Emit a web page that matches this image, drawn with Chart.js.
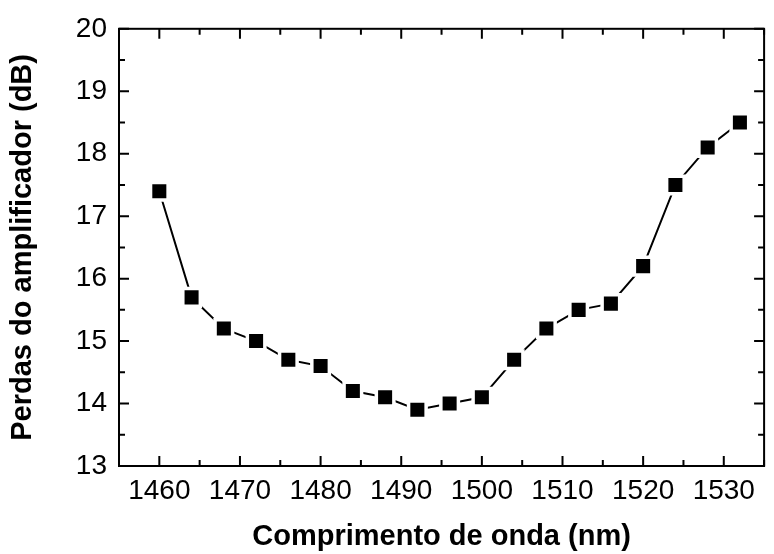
<!DOCTYPE html>
<html>
<head>
<meta charset="utf-8">
<script src="https://cdn.jsdelivr.net/npm/chart.js@4.4.1/dist/chart.umd.min.js"></script>
<style>
  html, body { margin: 0; padding: 0; background: #fff; overflow: hidden; }
  #wrap { width: 780px; height: 554px; }
</style>
</head>
<body>
<div id="wrap"><canvas id="lossCanvas" width="780" height="554"></canvas></div>
<script>
// wavelength (nm) and amplifier loss (dB)
var wavelengths = [1460, 1464, 1468, 1472, 1476, 1480, 1484, 1488, 1492, 1496,
                   1500, 1504, 1508, 1512, 1516, 1520, 1524, 1528, 1532];
var losses = [17.4, 15.7, 15.2, 15.0, 14.7, 14.6, 14.2, 14.1, 13.9, 14.0,
              14.1, 14.7, 15.2, 15.5, 15.6, 16.2, 17.5, 18.1, 18.5];

var xTicks = [1460, 1470, 1480, 1490, 1500, 1510, 1520, 1530];
var yTicks = [13, 14, 15, 16, 17, 18, 19, 20];

var points = wavelengths.map(function (w, i) {
  return { x: w, y: losses[i] };
});

var labelFont = { family: 'Liberation Sans, Arial, sans-serif', size: 28 };
var titleFont = { family: 'Liberation Sans, Arial, sans-serif', size: 29, weight: 'bold' };

// box around the plot with inward ticks on all four sides
var framePlugin = {
  id: 'frame',
  afterDraw: function (chart) {
    var ctx = chart.ctx;
    var a = chart.chartArea;
    var xs = chart.scales.x, ys = chart.scales.y;
    ctx.save();
    ctx.strokeStyle = '#000';
    ctx.lineWidth = 2;
    ctx.lineCap = 'square';
    ctx.strokeRect(a.left, a.top, a.right - a.left, a.bottom - a.top);

    function xTick(v, len) {
      var px = xs.getPixelForValue(v);
      ctx.beginPath();
      ctx.moveTo(px, a.bottom); ctx.lineTo(px, a.bottom - len);
      ctx.moveTo(px, a.top); ctx.lineTo(px, a.top + len);
      ctx.stroke();
    }
    function yTick(v, len) {
      var py = ys.getPixelForValue(v);
      ctx.beginPath();
      ctx.moveTo(a.left, py); ctx.lineTo(a.left + len, py);
      ctx.moveTo(a.right, py); ctx.lineTo(a.right - len, py);
      ctx.stroke();
    }
    ctx.lineCap = 'butt';
    xTicks.forEach(function (v) { xTick(v, 10); xTick(v + 5, 6); });
    yTicks.forEach(function (v) { yTick(v, 10); yTick(v + 0.5, 6); });
    ctx.restore();
  }
};

var ctx = document.getElementById('lossCanvas').getContext('2d');
var lossChart = new Chart(ctx, {
  type: 'line',
  data: {
    datasets: [{
      data: points,
      borderColor: '#000',
      borderWidth: 2,
      tension: 0,
      pointStyle: 'rect',
      pointRadius: 12.4,
      pointBackgroundColor: '#000',
      pointBorderColor: '#fff',
      pointBorderWidth: 3.5
    }]
  },
  options: {
    responsive: false,
    animation: false,
    layout: { padding: { top: 27, left: 0, right: 4, bottom: 0 } },
    plugins: {
      legend: { display: false },
      tooltip: { enabled: false }
    },
    scales: {
      x: {
        type: 'linear',
        min: 1455,
        max: 1535,
        afterBuildTicks: function (s) {
          s.ticks = xTicks.map(function (v) { return { value: v }; });
        },
        afterFit: function (s) { s.height = 88; },
        grid: { display: false, drawTicks: false },
        border: { display: false },
        ticks: {
          autoSkip: false,
          maxRotation: 0,
          padding: 8,
          color: '#000',
          font: labelFont,
          callback: function (v) { return String(v); }
        },
        title: {
          display: true,
          text: 'Comprimento de onda (nm)',
          color: '#000',
          padding: { top: 0, bottom: 0 },
          font: titleFont
        }
      },
      y: {
        min: 13,
        max: 20,
        afterBuildTicks: function (s) {
          s.ticks = yTicks.map(function (v) { return { value: v }; });
        },
        afterFit: function (s) { s.width = 119; },
        grid: { display: false, drawTicks: false },
        border: { display: false },
        ticks: {
          padding: 12,
          color: '#000',
          font: labelFont,
          callback: function (v) { return String(v); }
        },
        title: {
          display: true,
          text: 'Perdas do amplificador (dB)',
          color: '#000',
          padding: { top: 6, bottom: 0 },
          font: titleFont
        }
      }
    }
  },
  plugins: [framePlugin]
});
</script>
</body>
</html>
